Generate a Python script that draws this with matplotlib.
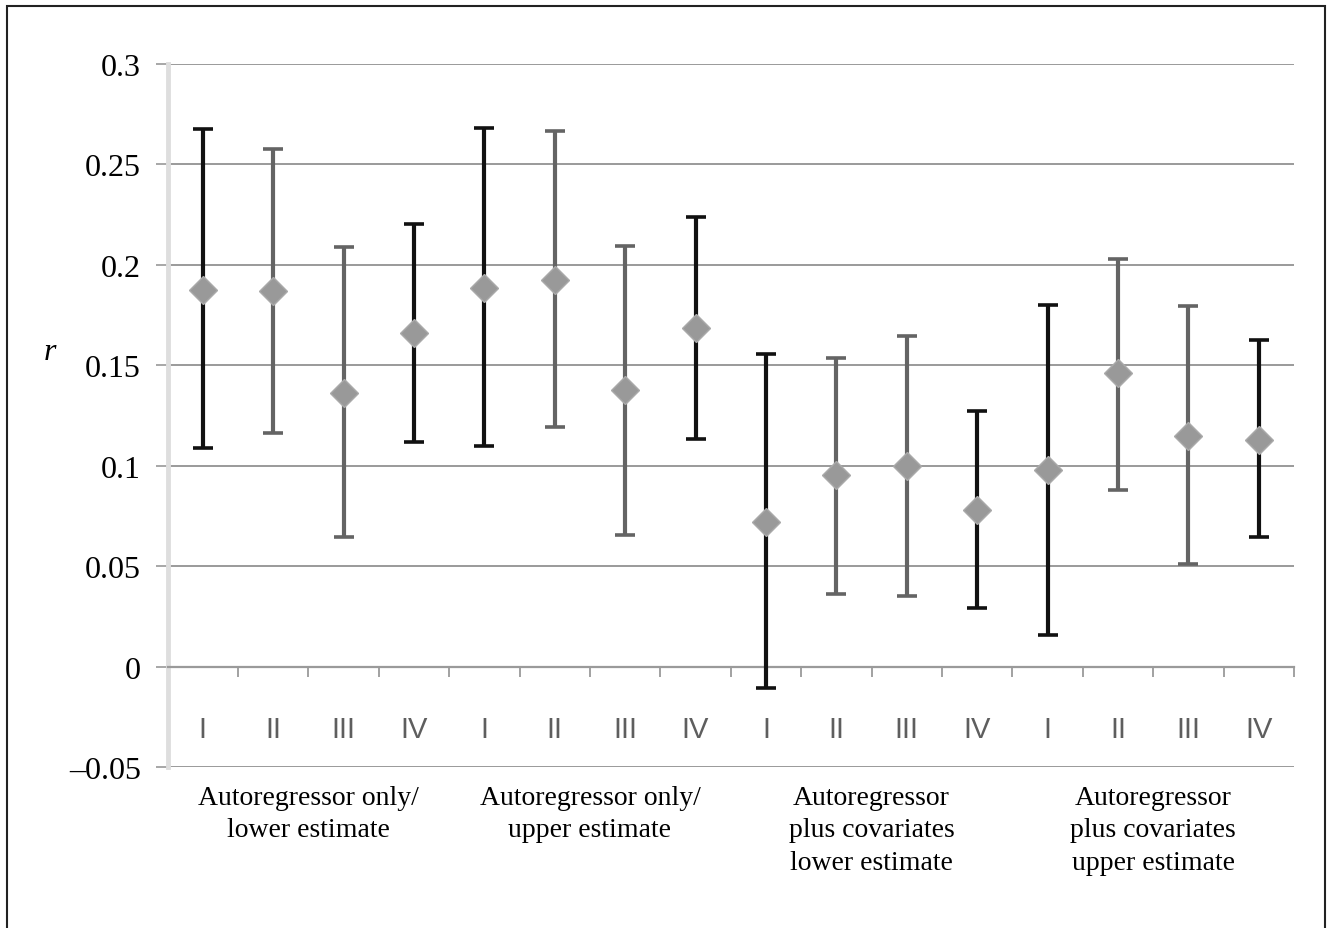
import numpy as np
import matplotlib.pyplot as plt
from matplotlib.patches import Rectangle
from matplotlib.transforms import blended_transform_factory

# values
numerals = ['I', 'II', 'III', 'IV'] * 4
groups = ['Autoregressor only/\nlower estimate',
          'Autoregressor only/\nupper estimate',
          'Autoregressor\nplus covariates\nlower estimate',
          'Autoregressor\nplus covariates\nupper estimate']
r_est = [0.1877, 0.1868, 0.1363, 0.1662,
         0.1884, 0.1925, 0.1375, 0.1684,
         0.0720, 0.0953, 0.0998, 0.0780,
         0.0980, 0.1460, 0.1150, 0.1130]
r_low = [0.1086, 0.1162, 0.0645, 0.1119,
         0.1096, 0.1191, 0.0654, 0.1132,
         -0.0106, 0.0359, 0.0353, 0.0290,
         0.0157, 0.0877, 0.0513, 0.0645]
r_high = [0.2676, 0.2577, 0.2088, 0.2204,
          0.2680, 0.2665, 0.2096, 0.2236,
          0.1556, 0.1536, 0.1644, 0.1272,
          0.1798, 0.2030, 0.1794, 0.1628]

x = np.arange(1, 17)
est = np.array(r_est)
err = np.array([est - np.array(r_low), np.array(r_high) - est])

fig = plt.figure(figsize=(13.29, 9.29), dpi=100)
ax = fig.add_axes([167.5 / 1329, 1 - 768 / 929, (1294 - 167.5) / 1329, (768 - 65) / 929])

for i in range(16):
    col = '#111111' if numerals[i] in ('I', 'IV') else '#646464'
    line, caps, bars = ax.errorbar(x[i], est[i], yerr=err[:, i:i + 1], fmt='none',
                                   ecolor=col, elinewidth=3, capsize=7, capthick=2.6,
                                   zorder=3)
    for c in caps:
        c.set_color('#111111')
ax.plot(x, est, linestyle='none', marker='D', markersize=14, color='#999999',
        markeredgecolor='#aaaaaa', markeredgewidth=1, zorder=4)

ax.set_xlim(0.5, 16.5)
ax.set_ylim(-0.05, 0.3)
yt = [-0.05, 0, 0.05, 0.1, 0.15, 0.2, 0.25, 0.3]
ax.set_yticks(yt)
ax.set_yticklabels(['\u20130.05', '0', '0.05', '0.1', '0.15', '0.2', '0.25', '0.3'],
                   fontfamily='Liberation Serif', fontsize=23)
ax.tick_params(axis='y', length=9, width=1.3, color='#a0a0a0', pad=10)
ax.grid(axis='y', color='#9a9a9a', linewidth=1.4, zorder=1)
ax.set_axisbelow(True)

ax.spines['top'].set_visible(False)
ax.spines['right'].set_visible(False)
ax.spines['left'].set_color('#dedede')
ax.spines['left'].set_linewidth(3.5)
ax.spines['bottom'].set_position(('data', 0))
ax.spines['bottom'].set_color('#9a9a9a')
ax.spines['bottom'].set_linewidth(1.6)
ax.set_xticks(np.arange(1.5, 17, 1))
ax.set_xticklabels([])
ax.tick_params(axis='x', length=7, width=1.3, color='#9a9a9a', direction='out')

for i in range(16):
    ax.text(x[i], -0.031, numerals[i], ha='center', va='center', fontsize=21,
            fontfamily='Liberation Sans', color='#5e5e5e')

trans = blended_transform_factory(ax.transData, ax.transAxes)
for g in range(4):
    ax.text(x[g * 4:g * 4 + 4].mean(), -0.026, groups[g], transform=trans,
            ha='center', va='top', fontsize=20, fontfamily='Liberation Serif',
            linespacing=1.38)

fig.text(50 / 1329, 1 - 352 / 929, 'r', fontsize=23, fontfamily='Liberation Serif',
         style='italic', ha='center', va='center')

fig.add_artist(Rectangle((7 / 1329, -0.02), (1325 - 7) / 1329, 1.02 - 7 / 929,
                         transform=fig.transFigure, fill=False, edgecolor='#222222',
                         linewidth=1.5))

fig.savefig('out.png', dpi=100)
